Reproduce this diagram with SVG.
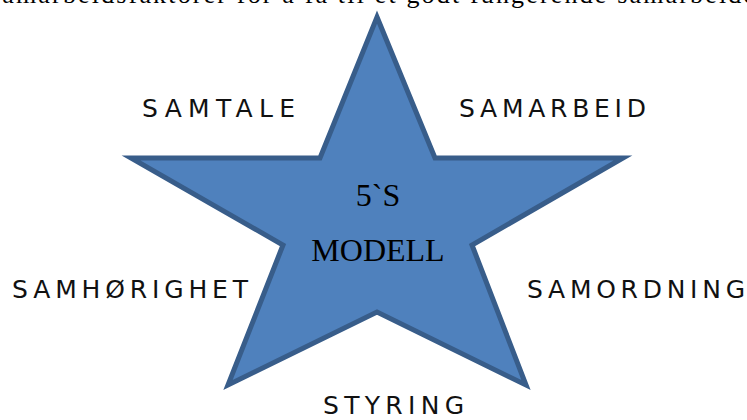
<svg xmlns="http://www.w3.org/2000/svg" width="747" height="420" viewBox="0 0 747 420">
<style>
.hand{font-family:"DejaVu Sans","Liberation Sans",sans-serif;font-size:25px;fill:#111;}
.center{font-family:"Liberation Serif","Times New Roman",serif;font-size:32px;fill:#000;text-anchor:middle;}
.top{font-family:"Liberation Serif","Times New Roman",serif;font-size:26px;fill:#000;}
</style>
<rect width="747" height="420" fill="#fff"/>
<text class="top" x="-10" y="3" textLength="765" lengthAdjust="spacing">samarbeidsfaktorer for å få til et godt fungerende samarbeide</text>
<g id="star">
<polygon points="377,17 435,158 623,158 472,245 526,385 377,312 228,385 283,245 131,158 320,158" fill="#4F81BD" stroke="#385D8A" stroke-width="5" stroke-linejoin="miter"/>
<text class="center" x="378" y="206">5`S</text>
<text class="center" x="378" y="261">MODELL</text>
</g>
<g id="samtale"><text class="hand" x="142" y="117" textLength="153" lengthAdjust="spacing">SAMTALE</text></g>
<g id="samarbeid"><text class="hand" x="459" y="117" textLength="187" lengthAdjust="spacing">SAMARBEID</text></g>
<g id="samhorighet"><text class="hand" x="12" y="298" textLength="236" lengthAdjust="spacing">SAMHØRIGHET</text></g>
<g id="samordning"><text class="hand" x="527" y="298" textLength="218" lengthAdjust="spacing">SAMORDNING</text></g>
<g id="styring"><text class="hand" x="323" y="414" textLength="141" lengthAdjust="spacing">STYRING</text></g>
<g id="connectors"></g>
</svg>
